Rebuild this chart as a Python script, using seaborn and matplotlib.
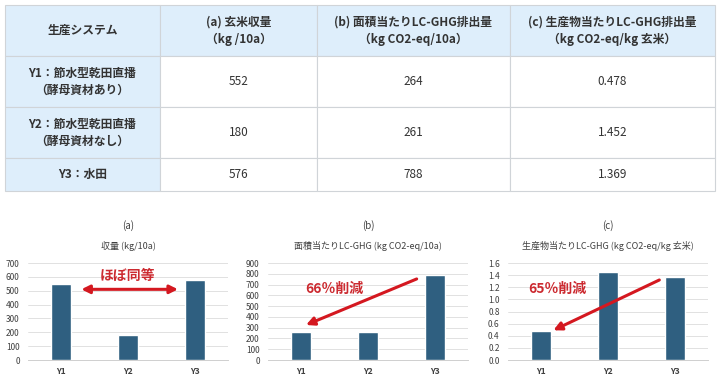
import numpy as np
import pandas as pd
import matplotlib
matplotlib.use('Agg')
import matplotlib.pyplot as plt
import seaborn as sns

# %% data
systems = ['Y1：節水型乾田直播\n（酵母資材あり）', 'Y2：節水型乾田直播\n（酵母資材なし）', 'Y3：水田']
headers = ['生産システム', '(a) 玄米収量\n（kg /10a）', '(b) 面積当たりLC-GHG排出量\n（kg CO2-eq/10a）',
           '(c) 生産物当たりLC-GHG排出量\n（kg CO2-eq/kg 玄米）']
yield_vals = [552, 180, 576]
area_ghg = [264, 261, 788]
prod_ghg = [0.478, 1.452, 1.369]
short_names = ['Y1', 'Y2', 'Y3']

panel_tags = ['(a)', '(b)', '(c)']
panel_titles = ['収量 (kg/10a)', '面積当たりLC-GHG (kg CO2-eq/10a)', '生産物当たりLC-GHG (kg CO2-eq/kg 玄米)']
panel_ticks = [np.arange(0, 701, 100), np.arange(0, 901, 100), np.arange(0, 1.61, 0.2)]

# %% style
sns.set_style('white')
plt.rcParams['font.family'] = ['Noto Sans CJK JP', 'DejaVu Sans']

bar_color = '#2f5f80'
red = '#d41820'
red_txt = '#cc2a30'
txt = '#404040'

fig = plt.figure(figsize=(7.2, 3.81), dpi=100)

# %% table
W, H = 720, 381
tax = fig.add_axes([5 / W, (H - 191) / H, 710 / W, 186 / H])
tax.axis('off')
cell_text = [[systems[i], str(yield_vals[i]), str(area_ghg[i]), f'{prod_ghg[i]:.3f}'] for i in range(3)]
tbl = tax.table(cellText=cell_text, colLabels=headers, cellLoc='center',
                colWidths=[155, 157, 193, 205], bbox=[0, 0, 1, 1])
tbl.auto_set_font_size(False)
row_h = [51, 51, 51, 33]
for (r, c), cell in tbl.get_celld().items():
    cell.set_height(row_h[r])
    cell.set_edgecolor('#d0d4d8')
    cell.set_linewidth(0.8)
    cell.get_text().set_fontsize(8.5)
    cell.get_text().set_color('#333333')
    cell.get_text().set_linespacing(1.4)
    if r == 0 or c == 0:
        cell.set_facecolor('#deeefb')
        cell.get_text().set_fontweight('bold')
    else:
        cell.set_facecolor('white')

# %% bar charts
series = [yield_vals, area_ghg, prod_ghg]
lefts = [28, 268, 508]
axes = []
for k in range(3):
    ax = fig.add_axes([lefts[k] / W, (H - 360) / H, 200 / W, 97 / H])
    df = pd.DataFrame({'sys': short_names, 'val': series[k]})
    sns.barplot(data=df, x='sys', y='val', color=bar_color, width=0.3, saturation=1, ax=ax)
    ax.set_ylim(0, panel_ticks[k][-1] + 1e-9)
    ax.set_yticks(panel_ticks[k])
    if k == 2:
        ax.set_yticklabels([f'{t:.1f}' for t in panel_ticks[k]])
    ax.set_xlabel('')
    ax.set_ylabel('')
    ax.grid(axis='y', color='#dcdcdc', lw=0.6)
    ax.set_axisbelow(True)
    sns.despine(ax=ax, left=True)
    ax.spines['bottom'].set_color('#cfcfcf')
    ax.spines['bottom'].set_linewidth(0.7)
    ax.tick_params(axis='y', labelsize=6, colors=txt, length=0, pad=6)
    ax.tick_params(axis='x', labelsize=6, colors=txt, length=0, pad=5)
    for lab in ax.get_xticklabels():
        lab.set_fontweight('bold')
    ax.annotate(panel_titles[k], xy=(0.5, 1), xycoords='axes fraction', xytext=(0, 12),
                textcoords='offset points', ha='center', va='center', fontsize=6.5, color=txt)
    ax.annotate(panel_tags[k], xy=(0.5, 1), xycoords='axes fraction', xytext=(0, 27),
                textcoords='offset points', ha='center', va='center', fontsize=7, color=txt)
    axes.append(ax)

# annotations
arrow = dict(color=red, lw=2.2, mutation_scale=12, shrinkA=0, shrinkB=0)
axes[0].annotate('', xy=(0.3, 510), xytext=(1.75, 510), arrowprops=dict(arrowstyle='<|-|>', **arrow))
axes[0].text(1.0, 610, 'ほぼ同等', color=red_txt, fontsize=10, fontweight='bold', ha='center', va='center')

axes[1].annotate('', xy=(0.07, 325), xytext=(1.73, 752), arrowprops=dict(arrowstyle='-|>', **arrow))
axes[1].text(0.5, 660, '66％削減', color=red_txt, fontsize=10, fontweight='bold', ha='center', va='center')

axes[2].annotate('', xy=(0.18, 0.49), xytext=(1.77, 1.32), arrowprops=dict(arrowstyle='-|>', **arrow))
axes[2].text(0.24, 1.17, '65％削減', color=red_txt, fontsize=10, fontweight='bold', ha='center', va='center')

fig.savefig('out.png', dpi=100, facecolor='white')
